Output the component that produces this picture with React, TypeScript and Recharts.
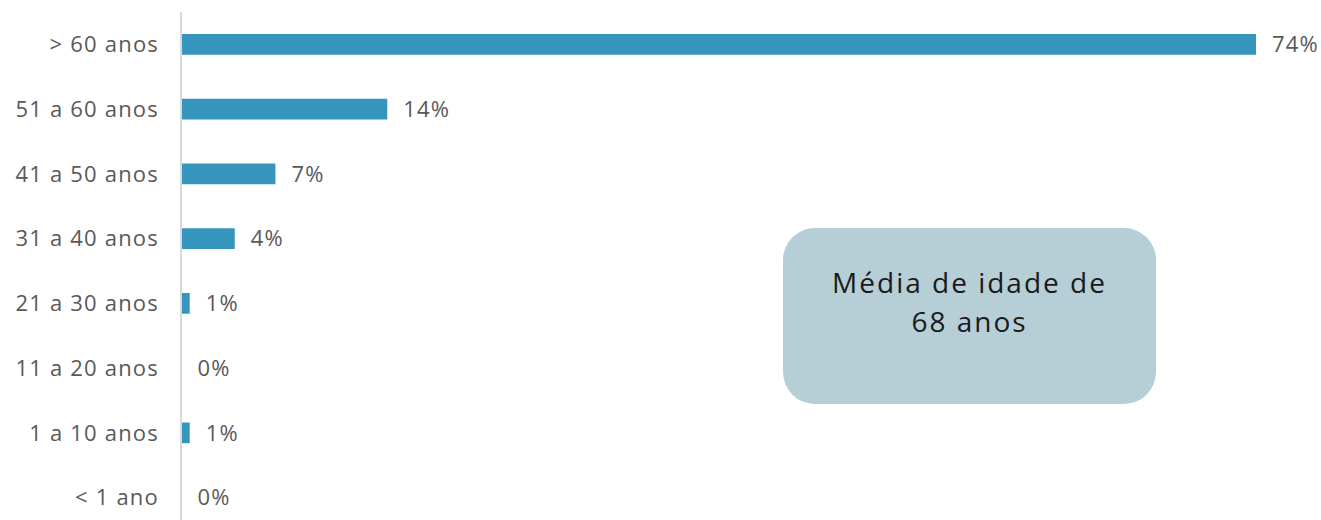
import React from 'react';
import { BarChart, Bar, XAxis, YAxis, LabelList } from 'recharts';

const categories = ['> 60 anos', '51 a 60 anos', '41 a 50 anos', '31 a 40 anos', '21 a 30 anos', '11 a 20 anos', '1 a 10 anos', '< 1 ano'];
const values = [74, 14.2, 6.5, 3.7, 0.6, 0, 0.6, 0];
const labels = ['74%', '14%', '7%', '4%', '1%', '0%', '1%', '0%'];
const noteLines = ['Média de idade de', '68 anos'];

const data = categories.map((c, i) => ({ name: c, value: values[i], label: labels[i] }));

const FONT = "'Open Sans', 'DejaVu Sans', sans-serif";

export default function App() {
  return (
    <div style={{ position: 'absolute', left: 0, top: 0, width: 1321, height: 520, overflow: 'hidden', background: '#fff' }}>
      <BarChart
        width={1321}
        height={540}
        data={data}
        layout="vertical"
        margin={{ top: 12, right: 65, bottom: 10, left: 0 }}
        barCategoryGap="66%"
      >
        <XAxis type="number" hide domain={[0, 74]} />
        <YAxis
          type="category"
          dataKey="name"
          width={181}
          tickLine={false}
          tickSize={0}
          tickMargin={22}
          axisLine={{ stroke: '#D9D9D9', strokeWidth: 2 }}
          tick={{ fill: '#595959', fontSize: 22, fontFamily: FONT, letterSpacing: 1.2 }}
        />
        <Bar dataKey="value" fill="#3595BD" minPointSize={0.5} isAnimationActive={false}>
          <LabelList
            dataKey="label"
            position="right"
            offset={16}
            fill="#595959"
            fontSize={22}
            fontFamily={FONT}
            style={{ letterSpacing: 1.2 }}
          />
        </Bar>
      </BarChart>
      <div
        style={{
          position: 'absolute',
          left: 783,
          top: 228,
          width: 373,
          height: 176,
          borderRadius: 32,
          background: '#B6CED5',
          boxSizing: 'border-box',
          paddingTop: 35,
          textAlign: 'center',
          fontFamily: FONT,
          fontSize: 28,
          letterSpacing: 2,
          lineHeight: '39px',
          color: '#1a1a1a',
        }}
      >
        {noteLines.map((l) => (
          <div key={l}>{l}</div>
        ))}
      </div>
    </div>
  );
}
